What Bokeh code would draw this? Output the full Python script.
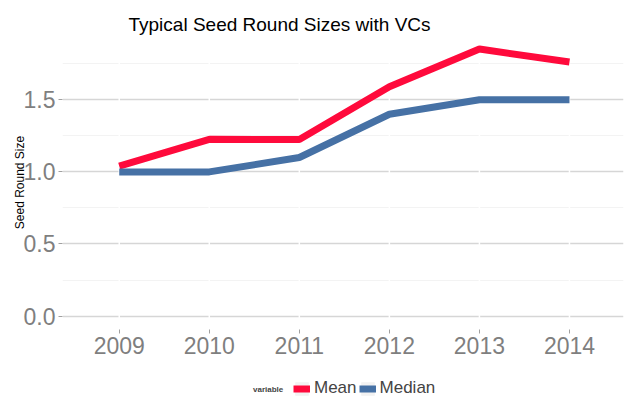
from bokeh.plotting import figure
from bokeh.layouts import column
from bokeh.models import (Range1d, FixedTicker, PrintfTickFormatter, Legend,
                          LegendItem)
from bokeh.embed import file_html
from bokeh.resources import INLINE

years = [2009, 2010, 2011, 2012, 2013, 2014]
mean_vals = [1.04, 1.226, 1.224, 1.59, 1.852, 1.762]
median_vals = [1.0, 1.0, 1.1, 1.4, 1.5, 1.5]
y_ticks = [0.0, 0.5, 1.0, 1.5]
y_minor = [0.25, 0.75, 1.25, 1.75]
series_names = ["Mean", "Median"]
legend_title_text = "variable"

FONT = "Liberation Sans"
RED = "#ff0a3c"
BLUE = "#4671a5"
Y0, Y1 = -0.093, 1.946

p = figure(width=635, height=364, output_backend="svg", toolbar_location=None,
           x_range=Range1d(2008.37, 2014.6), y_range=Range1d(Y0, Y1),
           min_border_left=62, min_border_right=12, min_border_top=35,
           min_border_bottom=35)
p.outline_line_color = None
p.background_fill_color = "white"

p.ygrid.ticker = FixedTicker(ticks=y_ticks, minor_ticks=y_minor)
p.ygrid.grid_line_color = "#d6d6d6"
p.ygrid.grid_line_width = 1.5
p.ygrid.minor_grid_line_color = "#f3f3f3"
p.ygrid.minor_grid_line_width = 1.2
p.xgrid.grid_line_color = None

# white vertical grid lines over the horizontal ones
p.segment(x0=years, y0=[Y0] * len(years), x1=years, y1=[Y1] * len(years),
          line_color="white", line_width=1.5)

# title
p.title.text = "Typical Seed Round Sizes with VCs"
p.title.text_font = FONT
p.title.text_font_size = "19px"
p.title.text_font_style = "normal"
p.title.text_color = "black"
p.title.align = "left"
p.title.offset = 66
p.title.standoff = 1

# axes
p.xaxis.ticker = FixedTicker(ticks=years)
p.yaxis.ticker = FixedTicker(ticks=y_ticks)
p.yaxis.formatter = PrintfTickFormatter(format="%.1f")
for ax in (p.xaxis[0], p.yaxis[0]):
    ax.axis_line_color = None
    ax.major_tick_line_color = "#a0a0a0"
    ax.major_tick_out = 4
    ax.major_tick_in = 0
    ax.minor_tick_line_color = None
    ax.major_label_text_font = FONT
    ax.major_label_text_font_size = "23px"
    ax.major_label_text_color = "#7f7f7f"
    ax.major_label_standoff = 3
p.yaxis.axis_label = "Seed Round Size"
p.yaxis.axis_label_text_font = FONT
p.yaxis.axis_label_text_font_size = "12px"
p.yaxis.axis_label_text_font_style = "normal"
p.yaxis.axis_label_text_color = "black"
p.yaxis.axis_label_standoff = -6

p.line(years, mean_vals, line_color=RED, line_width=7)
p.line(years, median_vals, line_color=BLUE, line_width=7)

# legend strip as a second figure (frame aligned with the main plot)
q = figure(width=635, height=35, output_backend="svg", toolbar_location=None,
           x_range=Range1d(0, 1), y_range=Range1d(0, 1), min_border=0)
q.axis.visible = False
q.grid.visible = False
q.outline_line_color = None

bg = q.rect(x=[5], y=[5], width=0.01, height=0.01, fill_color="#f2f2f2",
            line_color=None)
r_mean = q.line([5, 6], [5, 6], line_color=RED, line_width=7)
r_med = q.line([5, 6], [5, 6], line_color=BLUE, line_width=7)

def style(lg):
    lg.label_text_font = FONT
    lg.glyph_height = 17
    lg.label_height = 17
    lg.padding = 0
    lg.margin = 0
    lg.border_line_color = None
    lg.background_fill_alpha = 0
    lg.orientation = "horizontal"

legend = Legend(items=[LegendItem(label=series_names[0], renderers=[bg, r_mean]),
                       LegendItem(label=series_names[1], renderers=[bg, r_med])])
style(legend)
legend.label_text_font_size = "17px"
legend.glyph_width = 17
legend.label_standoff = 4
legend.spacing = 2
legend.location = (231, 1)
q.add_layout(legend)

legend_title = Legend(items=[LegendItem(label=legend_title_text, renderers=[bg])])
style(legend_title)
legend_title.label_text_font_size = "8px"
legend_title.label_text_font_style = "bold"
legend_title.glyph_width = 0
legend_title.label_standoff = 0
legend_title.location = (191, 1)
q.add_layout(legend_title)

layout = column(p, q, spacing=0)
open("out.html", "w").write(file_html(layout, INLINE))
